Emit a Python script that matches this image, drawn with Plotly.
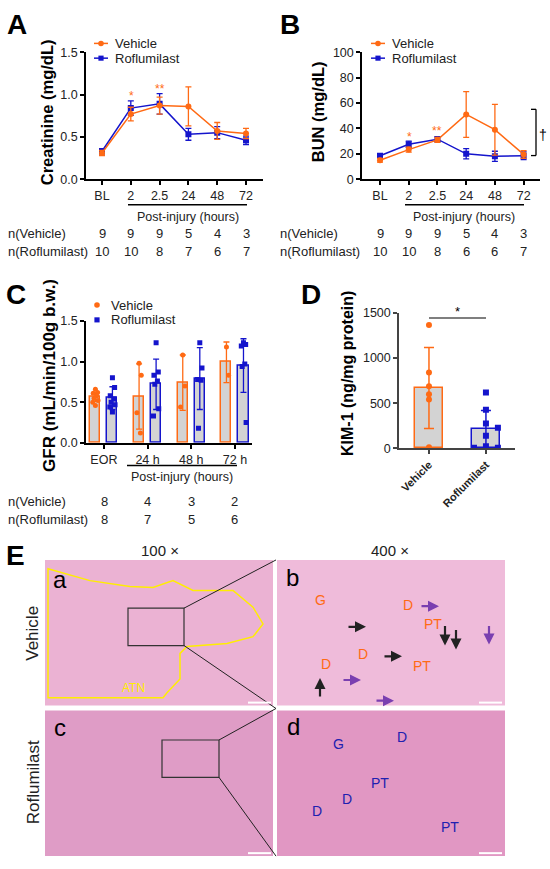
import plotly.graph_objects as go

# ---- data ----
time_labels = ['BL', '2', '2.5', '24', '48', '72']
crea_veh = [0.31, 0.77, 0.87, 0.86, 0.57, 0.54]
crea_veh_err = [0.03, 0.08, 0.10, 0.23, 0.10, 0.06]
crea_rof = [0.33, 0.84, 0.89, 0.53, 0.55, 0.46]
crea_rof_err = [0.03, 0.085, 0.12, 0.07, 0.07, 0.05]

bun_veh = [14.9, 23.3, 31.0, 51.0, 39.0, 19.5]
bun_veh_err = [1.5, 2.0, 2.0, 18.0, 20.0, 3.0]
bun_rof = [18.5, 27.5, 31.5, 20.0, 18.0, 18.5]
bun_rof_err = [1.5, 2.5, 2.0, 4.0, 4.0, 3.0]

n_veh_ab = [9, 9, 9, 5, 4, 3]
n_rof_a = [10, 10, 8, 7, 6, 7]
n_rof_b = [10, 10, 8, 6, 6, 7]

gfr_labels = ['EOR', '24 h', '48 h', '72 h']
gfr_veh_mean = [0.56, 0.57, 0.74, 0.99]
gfr_veh_sd = [0.05, 0.40, 0.34, 0.25]
gfr_rof_mean = [0.55, 0.72, 0.79, 0.95]
gfr_rof_sd = [0.14, 0.31, 0.38, 0.33]
gfr_veh_pts = [[0.66, 0.62, 0.61, 0.58, 0.55, 0.52, 0.50, 0.46],
               [0.98, 0.83, 0.37, 0.12],
               [1.08, 0.70, 0.44],
               [1.18, 0.83]]
gfr_rof_pts = [[0.80, 0.68, 0.58, 0.54, 0.50, 0.47, 0.44, 0.38],
               [1.23, 0.87, 0.83, 0.76, 0.72, 0.42, 0.33],
               [1.23, 0.92, 0.78, 0.77, 0.18],
               [1.23, 1.21, 1.19, 0.97, 0.94, 0.25]]
n_veh_c = [8, 4, 3, 2]
n_rof_c = [8, 7, 5, 6]

kim_groups = ['Vehicle', 'Roflumilast']
kim_mean = [668, 210]
kim_sd = [450, 209]
kim_veh_pts = [1367, 840, 688, 600, 540, 10]
kim_rof_pts = [618, 426, 275, 228, 140, 22, 7, 7]

ORANGE = '#FF6A14'
BLUE = '#1414CC'
FONT = 'Arial, Liberation Sans, sans-serif'
W, H = 550, 869


def px(x):
    return x / W


def py(y):
    return 1 - y / H


fig = go.Figure()

# ---- A: creatinine ----
xi = list(range(len(time_labels)))
fig.add_trace(go.Scatter(x=xi, y=crea_rof, mode='lines+markers', xaxis='x', yaxis='y',
                         line=dict(color=BLUE, width=1.5),
                         marker=dict(symbol='square', size=6, color=BLUE),
                         error_y=dict(array=crea_rof_err, color=BLUE, thickness=1.3, width=3)))
fig.add_trace(go.Scatter(x=xi, y=crea_veh, mode='lines+markers', xaxis='x', yaxis='y',
                         line=dict(color=ORANGE, width=1.5),
                         marker=dict(symbol='circle', size=6, color=ORANGE),
                         error_y=dict(array=crea_veh_err, color=ORANGE, thickness=1.3, width=3)))

# ---- B: BUN ----
fig.add_trace(go.Scatter(x=xi, y=bun_rof, mode='lines+markers', xaxis='x2', yaxis='y2',
                         line=dict(color=BLUE, width=1.5),
                         marker=dict(symbol='square', size=6, color=BLUE),
                         error_y=dict(array=bun_rof_err, color=BLUE, thickness=1.3, width=3)))
fig.add_trace(go.Scatter(x=xi, y=bun_veh, mode='lines+markers', xaxis='x2', yaxis='y2',
                         line=dict(color=ORANGE, width=1.5),
                         marker=dict(symbol='circle', size=6, color=ORANGE),
                         error_y=dict(array=bun_veh_err, color=ORANGE, thickness=1.3, width=3)))

# ---- C: GFR bars + points ----
off = 0.195
ci = list(range(len(gfr_labels)))
fig.add_trace(go.Bar(x=[i - off for i in ci], y=gfr_veh_mean, width=0.23, xaxis='x3', yaxis='y3',
                     marker=dict(color='#D3D3D3', line=dict(color=ORANGE, width=1.5)),
                     error_y=dict(array=gfr_veh_sd, color=ORANGE, thickness=1.3, width=3)))
fig.add_trace(go.Bar(x=[i + off for i in ci], y=gfr_rof_mean, width=0.23, xaxis='x3', yaxis='y3',
                     marker=dict(color='#D3D3D3', line=dict(color=BLUE, width=1.5)),
                     error_y=dict(array=gfr_rof_sd, color=BLUE, thickness=1.3, width=3)))
jit = [0, 0.05, -0.05, 0.03, -0.03, 0.06, -0.06, 0]
for i in ci:
    vx = [i - off + jit[k % len(jit)] for k in range(len(gfr_veh_pts[i]))]
    fig.add_trace(go.Scatter(x=vx, y=gfr_veh_pts[i], mode='markers', xaxis='x3', yaxis='y3',
                             marker=dict(symbol='circle', size=5, color=ORANGE)))
    rx = [i + off + jit[k % len(jit)] for k in range(len(gfr_rof_pts[i]))]
    fig.add_trace(go.Scatter(x=rx, y=gfr_rof_pts[i], mode='markers', xaxis='x3', yaxis='y3',
                             marker=dict(symbol='square', size=5, color=BLUE)))

# ---- D: KIM-1 ----
fig.add_trace(go.Bar(x=[0], y=[kim_mean[0]], width=0.49, xaxis='x4', yaxis='y4',
                     marker=dict(color='#D3D3D3', line=dict(color=ORANGE, width=1.5)),
                     error_y=dict(array=[kim_sd[0]], color=ORANGE, thickness=1.5, width=5)))
fig.add_trace(go.Bar(x=[1], y=[kim_mean[1]], width=0.49, xaxis='x4', yaxis='y4',
                     marker=dict(color='#D3D3D3', line=dict(color=BLUE, width=1.5)),
                     error_y=dict(array=[kim_sd[1]], color=BLUE, thickness=1.5, width=5)))
fig.add_trace(go.Scatter(x=[0] * len(kim_veh_pts), y=kim_veh_pts, mode='markers', xaxis='x4', yaxis='y4',
                         marker=dict(symbol='circle', size=6, color=ORANGE)))
djit = [0, 0, 0, 0.21, 0, 0, -0.21, 0.21]
fig.add_trace(go.Scatter(x=[1 + djit[k] for k in range(len(kim_rof_pts))], y=kim_rof_pts,
                         mode='markers', xaxis='x4', yaxis='y4',
                         marker=dict(symbol='square', size=6, color=BLUE)))


def xax(domain, rng, tickvals, ticktext, anchor, color='black', **kw):
    return dict(domain=[px(domain[0]), px(domain[1])], range=rng, anchor=anchor,
                tickvals=tickvals, ticktext=ticktext, showline=True, linecolor=color,
                linewidth=1.5, ticks='outside', ticklen=4, tickwidth=1.5, tickcolor=color,
                showgrid=False, zeroline=False, tickfont=dict(size=12.5, color='#222'), **kw)


def yax(domain, rng, tickvals, ticktext, anchor, color='black'):
    return dict(domain=[py(domain[1]), py(domain[0])], range=rng, anchor=anchor,
                tickvals=tickvals, ticktext=ticktext, showline=True, linecolor=color,
                linewidth=1.5, ticks='outside', ticklen=4, tickwidth=1.5, tickcolor=color,
                showgrid=False, zeroline=False, tickfont=dict(size=12.5, color='#222'))


fig.update_layout(
    xaxis=xax((86, 263), [-0.556, 5.59], xi, time_labels, 'y'),
    yaxis=yax((46, 175), [0, 1.5], [0, 0.5, 1, 1.5], ['0.0', '0.5', '1.0', '1.5'], 'x'),
    xaxis2=xax((362, 540), [-0.627, 5.57], xi, time_labels, 'y2'),
    yaxis2=yax((46, 175), [0, 100], [0, 20, 40, 60, 80, 100], ['0', '20', '40', '60', '80', '100'], 'x2'),
    xaxis3=xax((86, 252), [-0.41, 3.39], ci, gfr_labels, 'y3'),
    yaxis3=yax((319, 443), [0, 1.5], [0, 0.5, 1, 1.5], ['0.0', '0.5', '1.0', '1.5'], 'x3'),
    xaxis4=xax((399, 515), [-0.526, 1.51], [0, 1], kim_groups, 'y4', color='#444', tickangle=-45),
    yaxis4=yax((311, 448.5), [0, 1500], [0, 500, 1000, 1500], ['0', '500', '1000', '1500'], 'x4', color='#444'),
)
fig.layout.xaxis4.tickfont = dict(size=11, color='#222', weight='bold')

ann = []
shapes = []


def text(x, y, t, size=12, color='#222', bold=False, angle=0, xanchor='center'):
    ann.append(dict(x=px(x), y=py(y), xref='paper', yref='paper', text=t, showarrow=False,
                    xanchor=xanchor, yanchor='middle', textangle=angle,
                    font=dict(size=size, color=color, family=FONT, weight='bold' if bold else 'normal')))


def line(x0, y0, x1, y1, color='black', width=1.3):
    shapes.append(dict(type='line', xref='paper', yref='paper', x0=px(x0), y0=py(y0),
                       x1=px(x1), y1=py(y1), line=dict(color=color, width=width)))


def legend_entry(x, y, label, color, symbol, with_line):
    if with_line:
        line(x - 7, y, x + 7, y, color=color, width=1.5)
    if symbol == 'circle':
        shapes.append(dict(type='circle', xref='paper', yref='paper', x0=px(x - 2.8), x1=px(x + 2.8),
                           y0=py(y + 2.8), y1=py(y - 2.8), fillcolor=color, line=dict(width=0)))
    else:
        shapes.append(dict(type='rect', xref='paper', yref='paper', x0=px(x - 2.6), x1=px(x + 2.6),
                           y0=py(y + 2.6), y1=py(y - 2.6), fillcolor=color, line=dict(width=0)))
    text(x + 12, y, label, size=13, xanchor='left')


# panel letters
for lab, x, y in [('A', 17, 18), ('B', 290, 18), ('C', 16, 292), ('D', 311, 292), ('E', 15, 557)]:
    text(x, y, lab, size=28, color='black', bold=True)

# axis titles
text(47, 107, 'Creatinine (mg/dL)', size=16.5, color='black', bold=True, angle=-90)
text(318, 107, 'BUN (mg/dL)', size=16.5, color='black', bold=True, angle=-90)
text(50, 375, 'GFR (mL/min/100g b.w.)', size=17, color='black', bold=True, angle=-90)
text(348, 373, 'KIM-1 (ng/mg protein)', size=16, color='black', bold=True, angle=-90)

# legends
legend_entry(101, 37, 'Vehicle', ORANGE, 'circle', True)
legend_entry(101, 52, 'Roflumilast', BLUE, 'square', True)
legend_entry(378, 37, 'Vehicle', ORANGE, 'circle', True)
legend_entry(378, 52, 'Roflumilast', BLUE, 'square', True)
legend_entry(97, 303, 'Vehicle', ORANGE, 'circle', False)
legend_entry(97, 318, 'Roflumilast', BLUE, 'square', False)

# significance marks
text(131, 90, '*', size=12, color=ORANGE)
text(160, 83, '**', size=12, color=ORANGE)
text(409, 132, '*', size=12, color=ORANGE)
text(437, 126, '**', size=12, color=ORANGE)
line(531, 104, 536, 104)
line(536, 104, 536, 151)
line(531, 151, 536, 151)
text(543, 130, '†', size=14, color='black')
line(429, 316, 486, 316, color='#555', width=1.5)
text(457, 309, '*', size=13, color='black')

# post-injury brackets
line(128, 201, 247, 201)
text(188, 213, 'Post-injury (hours)', size=12.5)
line(405, 201, 524, 201)
text(464, 213, 'Post-injury (hours)', size=12.5)
line(127, 466, 237, 466)
text(182, 478, 'Post-injury (hours)', size=12.5)

# n tables
NS = 13
text(6, 230, 'n(Vehicle)', size=NS, xanchor='left')
text(6, 248, 'n(Roflumilast)', size=NS, xanchor='left')
text(278, 230, 'n(Vehicle)', size=NS, xanchor='left')
text(278, 248, 'n(Roflumilast)', size=NS, xanchor='left')
for i in range(len(time_labels)):
    text(102 + 28.8 * i, 230, str(n_veh_ab[i]), size=NS)
    text(102 + 28.8 * i, 248, str(n_rof_a[i]), size=NS)
    text(380 + 28.7 * i, 230, str(n_veh_ab[i]), size=NS)
    text(380 + 28.7 * i, 248, str(n_rof_b[i]), size=NS)
text(6, 503, 'n(Vehicle)', size=NS, xanchor='left')
text(6, 521, 'n(Roflumilast)', size=NS, xanchor='left')
for i in range(len(gfr_labels)):
    text(104 + 43.6 * i, 503, str(n_veh_c[i]), size=NS)
    text(104 + 43.6 * i, 521, str(n_rof_c[i]), size=NS)

# ---- E: histology panels (drawn as tinted tiles) ----
tiles = [(45, 562, 273, 710, '#EBB2D3'), (277, 562, 505, 710, '#EFBBDA'),
         (45, 715, 273, 863, '#DF9CC6'), (277, 715, 505, 863, '#E197C3')]
for x0, y0, x1, y1, c in tiles:
    shapes.append(dict(type='rect', xref='paper', yref='paper', x0=px(x0), x1=px(x1),
                       y0=py(y1), y1=py(y0), fillcolor=c, line=dict(width=0), layer='below'))
atn = [(48, 571), (90, 583), (130, 589), (153, 590), (173, 583), (193, 593), (233, 593),
       (253, 610), (263, 627), (253, 640), (227, 647), (187, 650), (180, 657), (180, 683),
       (167, 697), (163, 702), (48, 702)]
path = 'M ' + ' L '.join(f'{px(x):.4f},{py(y):.4f}' for x, y in atn) + ' Z'
shapes.append(dict(type='path', xref='paper', yref='paper', path=path, line=dict(color='#FFEE00', width=1.5)))
for x0, y0, x1, y1 in [(128, 611, 184, 649), (162, 745, 219, 783)]:
    shapes.append(dict(type='rect', xref='paper', yref='paper', x0=px(x0), x1=px(x1),
                       y0=py(y1), y1=py(y0), line=dict(color='#333', width=1.2)))
line(184, 611, 276, 562, color='#222', width=1)
line(184, 649, 276, 713, color='#222', width=1)
line(219, 745, 276, 713, color='#222', width=1)
line(219, 783, 276, 863, color='#222', width=1)
for x0, x1, y in [(248, 271, 707), (479, 502, 707), (248, 271, 860), (479, 502, 860)]:
    line(x0, y, x1, y, color='white', width=2)

text(160, 552, '100 ×', size=15)
text(390, 552, '400 ×', size=15)
text(33, 637, 'Vehicle', size=17, angle=-90)
text(33, 788, 'Roflumilast', size=17, angle=-90)
for lab, x, y in [('a', 60, 582), ('b', 292, 580), ('c', 60, 732), ('d', 293, 731)]:
    text(x, y, lab, size=24, color='black')
text(133, 692, 'ATN', size=12, color='#FFEE00')
for lab, x, y in [('G', 320, 603), ('D', 408, 608), ('PT', 433, 627), ('D', 326, 668),
                  ('D', 363, 658), ('PT', 422, 670)]:
    text(x, y, lab, size=14, color=ORANGE)
for lab, x, y in [('G', 338, 749), ('D', 402, 742), ('PT', 380, 789), ('D', 347, 805),
                  ('D', 317, 817), ('PT', 450, 833)]:
    text(x, y, lab, size=14, color='#2020B0')


def arrow(x0, y0, x1, y1, color):
    ann.append(dict(x=px(x1), y=py(y1), xref='paper', yref='paper', ax=x0 - x1, ay=y0 - y1,
                    text='', showarrow=True, arrowhead=2, arrowsize=1, arrowwidth=2.2,
                    arrowcolor=color))


for a in [(347, 630, 366, 630), (383, 660, 402, 660), (445, 628, 445, 649),
          (456, 632, 456, 653), (320, 702, 320, 682)]:
    arrow(*a, color='#222')
for a in [(420, 609, 439, 609), (342, 684, 361, 684), (489, 628, 489, 648), (375, 705, 394, 705)]:
    arrow(*a, color='#7A3FB0')

fig.update_layout(width=W, height=H, margin=dict(l=0, r=0, t=0, b=0),
                  paper_bgcolor='white', plot_bgcolor='white', showlegend=False,
                  font=dict(family=FONT, color='#222'), bargap=0,
                  annotations=ann, shapes=shapes)

fig.write_html('out.html', config={'displayModeBar': False},
               post_script="document.body.style.margin='0';")
